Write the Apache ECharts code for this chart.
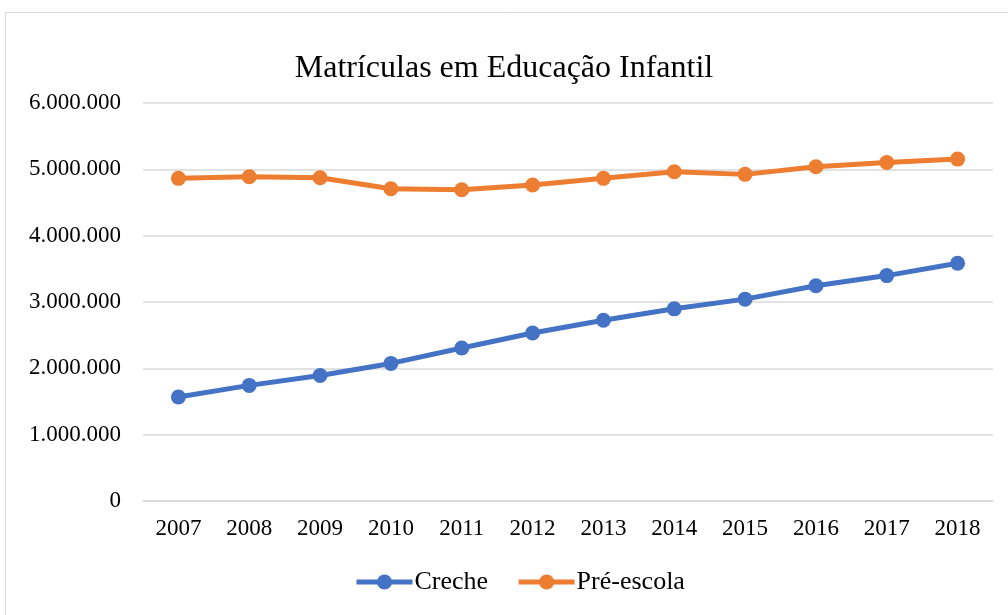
<!DOCTYPE html>
<html><head><meta charset="utf-8">
<script src="https://cdn.jsdelivr.net/npm/echarts@6/dist/echarts.min.js"></script>
<style>html,body{margin:0;padding:0;background:#fff}#c{width:1008px;height:615px}</style>
</head><body><div id="c"></div>
<script>
const categories = ['2007','2008','2009','2010','2011','2012','2013','2014','2015','2016','2017','2018'];
const creche = [1568000,1743000,1893000,2074000,2306000,2532000,2724000,2897000,3043000,3244000,3398000,3585000];
const preEscola = [4864000,4889000,4874000,4708000,4693000,4764000,4864000,4963000,4924000,5038000,5104000,5154000];
const seriesNames = ['Creche','Pré-escola'];
const font = '"Liberation Serif", "Times New Roman", serif';
function fmt(v){return String(v).replace(/\B(?=(\d{3})+(?!\d))/g,'.');}
const chart = echarts.init(document.getElementById('c'));
chart.setOption({
  animation:false,
  textStyle:{fontFamily:font},
  graphic:[{type:'rect',shape:{x:5.5,y:12.5,width:1010,height:610},style:{fill:'none',stroke:'#d9d9d9',lineWidth:1},silent:true}],
  title:{text:'Matrículas em Educação Infantil',left:'center',top:48,textStyle:{fontFamily:font,fontSize:32,fontWeight:'normal',color:'#000'}},
  legend:{bottom:15,left:349,itemWidth:56,itemHeight:19,itemGap:28,lineStyle:{width:5},textStyle:{fontFamily:font,fontSize:26,color:'#000',padding:[0,0,0,-3]},data:seriesNames},
  grid:{left:143,right:15,top:103,bottom:114},
  xAxis:{type:'category',data:categories,boundaryGap:true,axisLine:{lineStyle:{color:'#d9d9d9',width:1.5}},axisTick:{show:false},axisLabel:{fontFamily:font,fontSize:23,color:'#000',margin:16}},
  yAxis:{type:'value',min:0,max:6000000,interval:1000000,axisLine:{show:false},axisTick:{show:false},splitLine:{lineStyle:{color:'#d9d9d9',width:1.5}},axisLabel:{fontFamily:font,fontSize:23,color:'#000',margin:22,formatter:fmt}},
  series:[
    {name:seriesNames[0],type:'line',data:creche,symbol:'circle',symbolSize:15,lineStyle:{width:5,color:'#4472C4'},itemStyle:{color:'#4472C4'}},
    {name:seriesNames[1],type:'line',data:preEscola,symbol:'circle',symbolSize:15,lineStyle:{width:5,color:'#ED7D31'},itemStyle:{color:'#ED7D31'}}
  ]
});
</script></body></html>
